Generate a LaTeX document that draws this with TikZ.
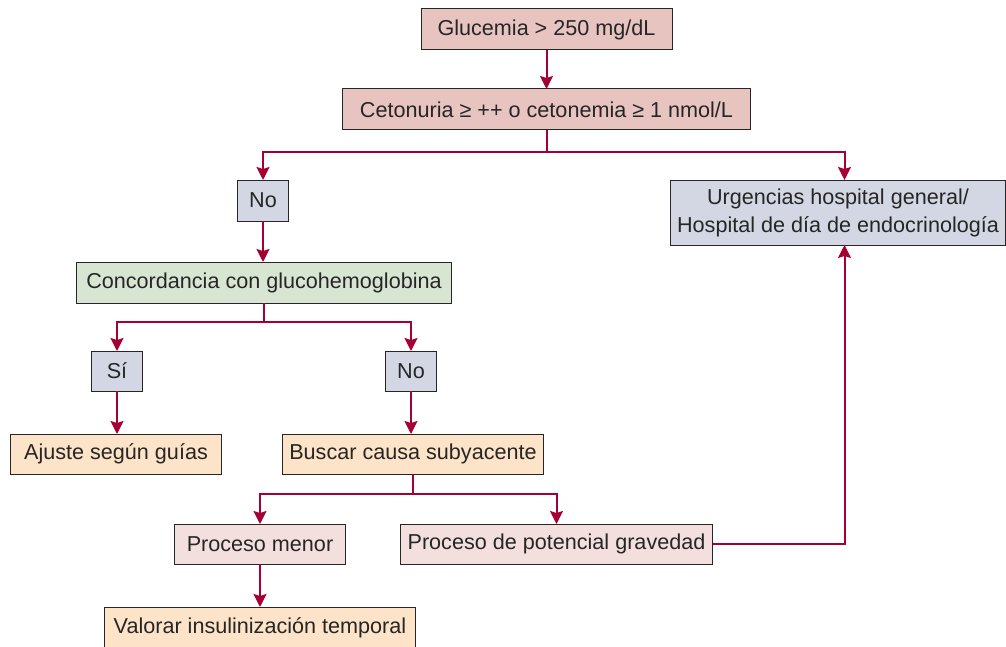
\documentclass[tikz,border=0pt]{standalone}
\usepackage{fontspec}
\setmainfont{Liberation Sans}
\usepackage{xcolor}
\usetikzlibrary{arrows.meta, positioning, calc}

\definecolor{flowred}{RGB}{165,0,52}
\definecolor{rosedark}{RGB}{232,196,192}
\definecolor{roselight}{RGB}{243,223,221}
\definecolor{greyblue}{RGB}{211,214,227}
\definecolor{sage}{RGB}{215,229,210}
\definecolor{peach}{RGB}{253,227,199}

\begin{document}
\begin{tikzpicture}[
    node distance=20pt,
    box/.style={rectangle, draw=black!85, line width=0.5pt, fill=#1, minimum height=20pt, inner sep=2pt, outer sep=0pt, text=black!85, font=\fontsize{10.8}{14}\selectfont},
    arrow/.style={-{Stealth[length=6.5pt, width=6.5pt, inset=1pt]}, line width=1pt, draw=flowred},
    link/.style={line width=1pt, draw=flowred}
]
    \useasboundingbox (0,0) rectangle (503pt,-323.5pt);

    % Top
    \node[box=rosedark, minimum width=125.5pt, minimum height=20.5pt] (gluc) at (273.25pt,-14.75pt) {Glucemia > 250 mg/dL};
    \node[box=rosedark, minimum width=204pt, minimum height=20.5pt, below=19.5pt of gluc] (ceto) {Cetonuria ≥ ++ o cetonemia ≥ 1 nmol/L};

    % First split
    \node[box=greyblue, minimum width=25.5pt, minimum height=20.5pt, below=25pt of ceto, xshift=-141.75pt] (no1) {No};
    \node[box=greyblue, minimum width=167.5pt, minimum height=32.5pt, align=center, below=25pt of ceto, xshift=145.75pt] (urg) {Urgencias hospital general/\\Hospital de día de endocrinología};
    \node[box=sage, minimum width=187.5pt, minimum height=20.5pt, below=20.5pt of no1, xshift=0.5pt] (conc) {Concordancia con glucohemoglobina};

    % Second split
    \node[box=greyblue, minimum width=25.5pt, below=24pt of conc, xshift=-73.5pt] (si) {Sí};
    \node[box=greyblue, minimum width=25.5pt, below=24pt of conc, xshift=73.5pt] (no2) {No};
    \node[box=peach, minimum width=105.5pt, below=21.5pt of si, xshift=-0.5pt] (ajuste) {Ajuste según guías};
    \node[box=peach, minimum width=130.5pt, below=21.5pt of no2, xshift=1pt] (buscar) {Buscar causa subyacente};

    % Third split
    \node[box=roselight, minimum width=85.5pt, below=25pt of buscar, xshift=-76.5pt] (menor) {Proceso menor};
    \node[box=roselight, minimum width=156pt, below=25pt of buscar, xshift=71.75pt] (grave) {Proceso de potencial gravedad};
    \node[box=peach, minimum width=155.5pt, minimum height=20.5pt, below=21.5pt of menor] (valorar) {Valorar insulinización temporal};

    % Branch points
    \coordinate (split1) at ($(ceto.south)+(0,-11pt)$);
    \coordinate (split2) at ($(conc.south)+(0,-9.5pt)$);
    \coordinate (split3) at ($(buscar.south)+(0,-10pt)$);
    \coordinate (urgtop) at ($(urg.north)+(3.25pt,0)$);
    \coordinate (urgbot) at ($(urg.south)+(3.25pt,0)$);

    % Arrows
    \draw[arrow] (gluc) -- (ceto);
    \draw[link] (ceto.south) -- (split1);
    \draw[arrow] (split1) -| (no1.north);
    \draw[arrow] (split1) -| (urgtop);
    \draw[arrow] (no1) -- (conc.north -| no1);
    \draw[link] (conc.south) -- (split2);
    \draw[arrow] (split2) -| (si.north);
    \draw[arrow] (split2) -| (no2.north);
    \draw[arrow] (si) -- (ajuste.north -| si);
    \draw[arrow] (no2) -- (buscar.north -| no2);
    \draw[link] (buscar.south) -- (split3);
    \draw[arrow] (split3) -| (menor.north);
    \draw[arrow] (split3) -| (grave.north);
    \draw[arrow] (menor) -- (valorar);
    \draw[arrow] (grave.east) -| (urgbot);
\end{tikzpicture}
\end{document}
